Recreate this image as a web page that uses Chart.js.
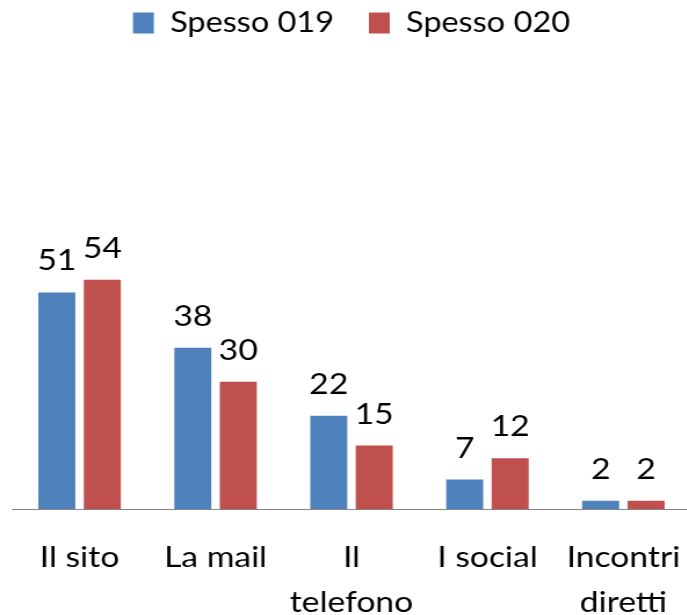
<!DOCTYPE html>
<html>
<head>
<meta charset="utf-8">
<script src="https://cdn.jsdelivr.net/npm/chart.js@4"></script>
<style>
  html, body { margin: 0; padding: 0; background: #fff; overflow: hidden; }
  /* the reference is drawn wider than its font height suggests, so stretch the canvas a bit */
  #wrap { width: 620px; height: 615px; transform: scaleX(1.16); transform-origin: 0 0; }
</style>
</head>
<body>
<div id="wrap"><canvas id="chart"></canvas></div>
<script>
const categories = ['Il sito', 'La mail', ['Il', 'telefono'], 'I social', ['Incontri', 'diretti']];
const seriesNames = ['Spesso 019', 'Spesso 020'];
const spesso019 = [51, 38, 22, 7, 2];
const spesso020 = [54, 30, 15, 12, 2];

const FONT = 'Lato';

const valueLabels = {
  id: 'valueLabels',
  afterDatasetsDraw(chart) {
    const ctx = chart.ctx;
    ctx.save();
    ctx.font = '29px ' + FONT;
    ctx.fillStyle = '#000';
    ctx.textAlign = 'center';
    ctx.textBaseline = 'alphabetic';
    chart.data.datasets.forEach((ds, i) => {
      chart.getDatasetMeta(i).data.forEach((bar, j) => {
        ctx.fillText(ds.data[j], bar.x, bar.y - 22);
      });
    });
    ctx.restore();
  }
};

// leave empty room between the legend and the bars
const legendGap = {
  id: 'legendGap',
  beforeInit(chart) {
    const fit = chart.legend.fit;
    chart.legend.fit = function () {
      fit.call(this);
      this.height += 37;
    };
  }
};

new Chart(document.getElementById('chart'), {
  type: 'bar',
  data: {
    labels: categories,
    datasets: [
      { label: seriesNames[0], data: spesso019, backgroundColor: '#4F81BD' },
      { label: seriesNames[1], data: spesso020, backgroundColor: '#C0504D' }
    ]
  },
  options: {
    responsive: true,
    maintainAspectRatio: false,
    animation: false,
    categoryPercentage: 0.669,
    barPercentage: 0.814,
    layout: { padding: { left: 10, right: 24, top: -21, bottom: -36 } },
    plugins: {
      legend: {
        position: 'top',
        labels: {
          color: '#000',
          font: { family: FONT, size: 28 },
          boxWidth: 18,
          boxHeight: 21,
          padding: 30
        }
      },
      tooltip: { enabled: false }
    },
    scales: {
      x: {
        grid: { display: false, drawTicks: false },
        border: { color: '#868686', width: 1 },
        ticks: {
          color: '#000',
          font: { family: FONT, size: 29, lineHeight: 1.58 },
          padding: 25,
          maxRotation: 0,
          autoSkip: false
        }
      },
      y: {
        display: false,
        min: 0,
        max: 100
      }
    }
  },
  plugins: [valueLabels, legendGap]
});
</script>
</body>
</html>
